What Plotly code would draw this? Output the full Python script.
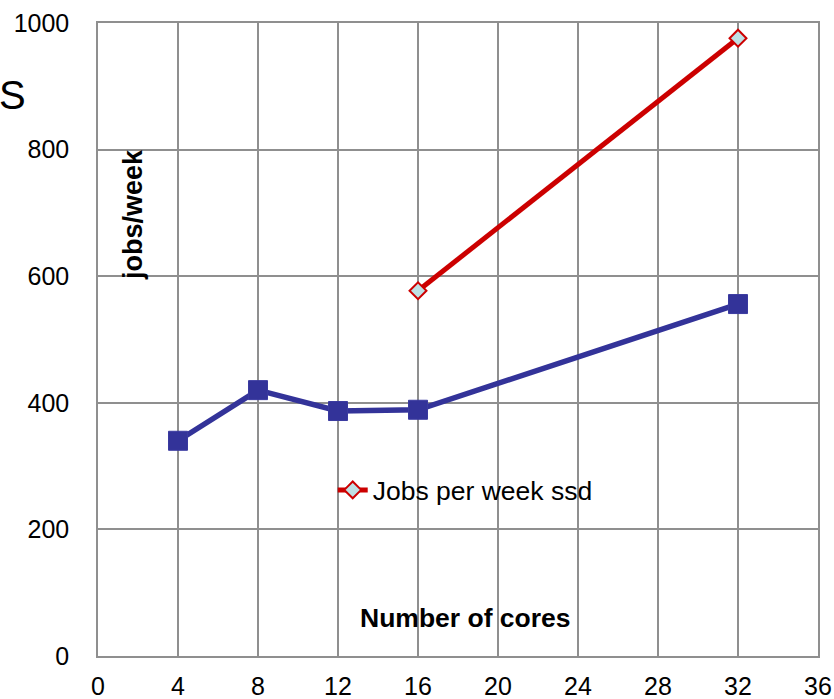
import plotly.graph_objects as go

# Throughput by core count
cores_hdd = [4, 8, 12, 16, 32]
jobs_hdd = [340, 420, 387, 389, 556]

cores_ssd = [16, 32]
jobs_ssd = [577, 976]

x_ticks = [0, 4, 8, 12, 16, 20, 24, 28, 32, 36]
y_ticks = [0, 200, 400, 600, 800, 1000]

FONT = "Liberation Sans, Arial, sans-serif"

fig = go.Figure()

fig.add_trace(go.Scatter(
    x=cores_hdd, y=jobs_hdd, mode="lines+markers",
    line=dict(color="#333399", width=5.5),
    marker=dict(symbol="square", size=19, color="#333399",
                line=dict(color="#3a3aa0", width=1)),
    showlegend=False,
))

fig.add_trace(go.Scatter(
    x=cores_ssd, y=jobs_ssd, mode="lines+markers",
    name="Jobs per week ssd",
    line=dict(color="#cc0000", width=5),
    marker=dict(symbol="diamond", size=13, color="#bfe0e4",
                line=dict(color="#cc0000", width=2)),
))

grid = dict(showgrid=True, gridcolor="#8f8f8f", gridwidth=1.5,
            zeroline=False, showline=True, linecolor="#8f8f8f",
            linewidth=1.5, mirror=True, ticks="", automargin=False,
            tickfont=dict(family=FONT, size=25, color="#000000"))

fig.update_xaxes(range=[0, 36], tickvals=x_ticks, ticklabelstandoff=7, **grid)
fig.update_yaxes(range=[0, 1000], tickvals=y_ticks, ticklabelstandoff=22, **grid)

fig.add_annotation(text="S", xref="paper", yref="paper", x=-0.14, y=0.886,
                   xanchor="left", yanchor="middle", showarrow=False,
                   font=dict(family=FONT, size=40, color="#000000"))
fig.add_annotation(text="<b>jobs/week</b>", xref="paper", yref="paper",
                   x=0.049, y=0.697, textangle=-90, showarrow=False,
                   xanchor="center", yanchor="middle",
                   font=dict(family=FONT, size=27, color="#000000"))
fig.add_annotation(text="<b>Number of cores</b>", xref="paper", yref="paper",
                   x=0.511, y=0.06, showarrow=False,
                   xanchor="center", yanchor="middle",
                   font=dict(family=FONT, size=26.5, color="#000000"))

fig.update_layout(
    width=834, height=699,
    margin=dict(l=98, r=16, t=23, b=43),
    paper_bgcolor="white", plot_bgcolor="white",
    legend=dict(x=0.326, y=0.262, xanchor="left", yanchor="middle",
                bgcolor="rgba(0,0,0,0)",
                font=dict(family=FONT, size=26.5, color="#000000")),
)

fig.write_html("out.html")
